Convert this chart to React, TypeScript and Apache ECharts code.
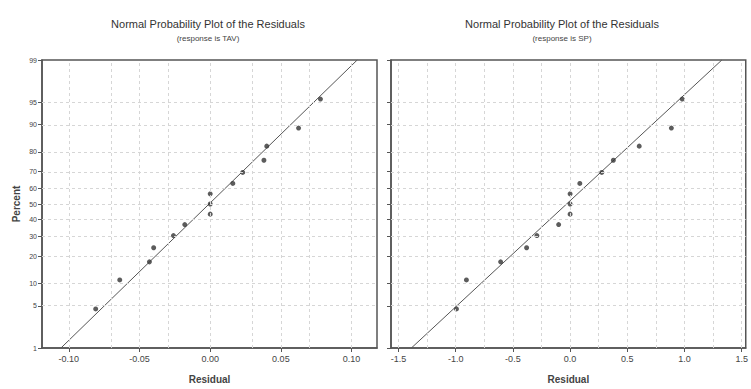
import React, { useEffect, useRef } from "react";
import * as echarts from "echarts";

// Percent ticks (normal probability scale)
const percentTicks = [1, 5, 10, 20, 30, 40, 50, 60, 70, 80, 90, 95, 99];

// Left panel (response is TAV)
const leftResiduals = [-0.081, -0.064, -0.043, -0.040, -0.026, -0.018, 0.0, 0.0, 0.0, 0.016, 0.023, 0.038, 0.040, 0.0625, 0.078];
const leftPercents = [4.5, 11, 17.5, 24, 30.5, 37, 43.5, 50, 56.5, 63, 69.5, 76, 82.5, 89, 95.5];
const leftFitResiduals = [-0.1056, 0.104];
const leftFitPercents = [1, 99];
const leftXTicks = [-0.1, -0.05, 0, 0.05, 0.1];
const leftXGrid = [-0.1, -0.075, -0.05, -0.025, 0, 0.025, 0.05, 0.075, 0.1];

// Right panel (response is SP)
const rightResiduals = [-0.993, -0.906, -0.607, -0.38, -0.29, -0.10, 0.0, 0.0, 0.0, 0.085, 0.277, 0.378, 0.604, 0.885, 0.98];
const rightPercents = [4.5, 11, 17.5, 24, 30.5, 37, 43.5, 50, 56.5, 63, 69.5, 76, 82.5, 89, 95.5];
const rightFitResiduals = [-1.387, 1.326];
const rightFitPercents = [1, 99];
const rightXTicks = [-1.5, -1.0, -0.5, 0, 0.5, 1.0, 1.5];
const rightXGrid = [-1.5, -1.25, -1.0, -0.75, -0.5, -0.25, 0, 0.25, 0.5, 0.75, 1.0, 1.25, 1.5];

// Inverse normal CDF (Acklam) - probability-scale transform
function normInv(p: number): number {
  const a = [-39.69683028665376, 220.9460984245205, -275.9285104469687, 138.357751867269, -30.66479806614716, 2.506628277459239];
  const b = [-54.47609879822406, 161.5858368580409, -155.6989798598866, 66.80131188771972, -13.28068155288572];
  const c = [-0.007784894002430293, -0.3223964580411365, -2.400758277161838, -2.549732539343734, 4.374664141464968, 2.938163982698783];
  const d = [0.007784695709041462, 0.3224671290700398, 2.445134137142996, 3.754408661907416];
  const pl = 0.02425;
  if (p < pl) {
    const q = Math.sqrt(-2 * Math.log(p));
    return (((((c[0] * q + c[1]) * q + c[2]) * q + c[3]) * q + c[4]) * q + c[5]) / ((((d[0] * q + d[1]) * q + d[2]) * q + d[3]) * q + 1);
  }
  if (p > 1 - pl) {
    const q = Math.sqrt(-2 * Math.log(1 - p));
    return -(((((c[0] * q + c[1]) * q + c[2]) * q + c[3]) * q + c[4]) * q + c[5]) / ((((d[0] * q + d[1]) * q + d[2]) * q + d[3]) * q + 1);
  }
  const q = p - 0.5;
  const r = q * q;
  return ((((((a[0] * r + a[1]) * r + a[2]) * r + a[3]) * r + a[4]) * r + a[5]) * q) / (((((b[0] * r + b[1]) * r + b[2]) * r + b[3]) * r + b[4]) * r + 1);
}
const z = (pct: number) => normInv(pct / 100);

const yTickVals = percentTicks.map(z);
const yMin = z(1);
const yMax = z(99);

const TEXT = "#444";
const FRAME = "#555";
const GRID = "#d6d6d6";

function percentLabel(v: number): string {
  let best = 0;
  let bd = Infinity;
  yTickVals.forEach((t, i) => {
    const dd = Math.abs(t - v);
    if (dd < bd) {
      bd = dd;
      best = i;
    }
  });
  return String(percentTicks[best]);
}

function gridMarkLines(xs: number[]) {
  return {
    silent: true,
    symbol: ["none", "none"],
    label: { show: false },
    lineStyle: { color: GRID, type: [3, 3], width: 1 },
    data: [
      ...xs.map((v) => ({ xAxis: v })),
      ...yTickVals.slice(1, -1).map((v) => ({ yAxis: v })),
    ],
  };
}

export default function App() {
  const ref = useRef<HTMLDivElement>(null);
  useEffect(() => {
    document.body.style.margin = "0";
    if (!ref.current) return;
    const chart = echarts.init(ref.current, null, { renderer: "svg" });
    const font = "Liberation Sans";
    const xAxisCommon = {
      type: "value" as const,
      axisLine: { show: true, onZero: false, lineStyle: { color: FRAME, width: 1.5 } },
      axisTick: { show: true, length: 4, lineStyle: { color: FRAME } },
      axisLabel: { color: TEXT, fontSize: 9, fontFamily: font, margin: 6 },
      splitLine: { show: false },
      name: "Residual",
      nameLocation: "middle" as const,
      nameGap: 26,
      nameTextStyle: { color: TEXT, fontSize: 10, fontFamily: font, fontWeight: "bold" as const },
    };
    const yAxisCommon = {
      type: "value" as const,
      min: yMin,
      max: yMax,
      axisLine: { show: true, onZero: false, lineStyle: { color: FRAME, width: 1.5 } },
      axisTick: { show: true, length: 4, customValues: yTickVals, lineStyle: { color: FRAME } },
      splitLine: { show: false },
    };
    chart.setOption({
      animation: false,
      backgroundColor: "#fff",
      title: [
        {
          text: "Normal Probability Plot of the Residuals",
          subtext: "(response is TAV)",
          left: 203,
          top: 13,
          textAlign: "center",
          itemGap: 5,
          textStyle: { fontSize: 11, fontWeight: "normal", color: "#333", fontFamily: font },
          subtextStyle: { fontSize: 8, color: "#444", fontFamily: font },
        },
        {
          text: "Normal Probability Plot of the Residuals",
          subtext: "(response is SP)",
          left: 557,
          top: 13,
          textAlign: "center",
          itemGap: 5,
          textStyle: { fontSize: 11, fontWeight: "normal", color: "#333", fontFamily: font },
          subtextStyle: { fontSize: 8, color: "#444", fontFamily: font },
        },
      ],
      grid: [
        { left: 42, top: 60, width: 335, height: 290, show: true, borderColor: FRAME, borderWidth: 1.5, backgroundColor: "transparent" },
        { left: 391, top: 60, width: 357, height: 290, show: true, borderColor: FRAME, borderWidth: 1.5, backgroundColor: "transparent" },
      ],
      xAxis: [
        {
          ...xAxisCommon,
          gridIndex: 0,
          min: -0.119,
          max: 0.118,
          axisTick: { ...xAxisCommon.axisTick, customValues: leftXTicks },
          axisLabel: { ...xAxisCommon.axisLabel, customValues: leftXTicks, formatter: (v: number) => v.toFixed(2) },
        },
        {
          ...xAxisCommon,
          gridIndex: 1,
          min: -1.565,
          max: 1.535,
          axisTick: { ...xAxisCommon.axisTick, customValues: rightXTicks },
          axisLabel: { ...xAxisCommon.axisLabel, customValues: rightXTicks, formatter: (v: number) => v.toFixed(1) },
        },
      ],
      yAxis: [
        {
          ...yAxisCommon,
          gridIndex: 0,
          axisLabel: { show: true, customValues: yTickVals, formatter: percentLabel, color: TEXT, fontSize: 7, fontFamily: font, margin: 5 },
          name: "Percent",
          nameLocation: "middle",
          nameRotate: 90,
          nameGap: 21,
          nameTextStyle: { color: TEXT, fontSize: 10, fontFamily: font, fontWeight: "bold" },
        },
        {
          ...yAxisCommon,
          gridIndex: 1,
          axisLabel: { show: false },
        },
      ],
      series: [
        {
          type: "line",
          xAxisIndex: 0,
          yAxisIndex: 0,
          data: leftFitResiduals.map((r, i) => [r, z(leftFitPercents[i])]),
          showSymbol: false,
          lineStyle: { color: "#555", width: 1 },
          markLine: gridMarkLines(leftXGrid),
          z: 3,
        },
        {
          type: "scatter",
          xAxisIndex: 0,
          yAxisIndex: 0,
          data: leftResiduals.map((r, i) => [r, z(leftPercents[i])]),
          symbol: "circle",
          symbolSize: 5,
          itemStyle: { color: "#333" },
          z: 4,
        },
        {
          type: "line",
          xAxisIndex: 1,
          yAxisIndex: 1,
          data: rightFitResiduals.map((r, i) => [r, z(rightFitPercents[i])]),
          showSymbol: false,
          lineStyle: { color: "#555", width: 1 },
          markLine: gridMarkLines(rightXGrid),
          z: 3,
        },
        {
          type: "scatter",
          xAxisIndex: 1,
          yAxisIndex: 1,
          data: rightResiduals.map((r, i) => [r, z(rightPercents[i])]),
          symbol: "circle",
          symbolSize: 5,
          itemStyle: { color: "#333" },
          z: 4,
        },
      ],
    });
    return () => chart.dispose();
  }, []);
  return <div ref={ref} style={{ width: 751, height: 389 }} />;
}
